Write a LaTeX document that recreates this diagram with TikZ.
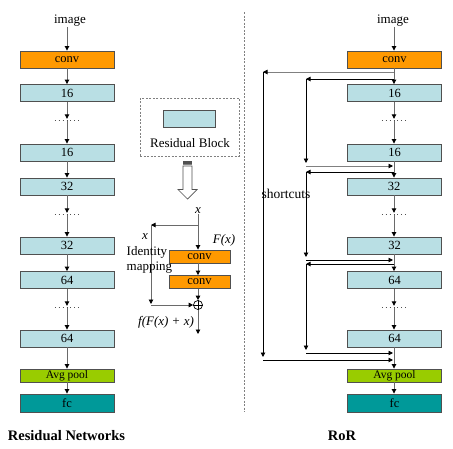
\documentclass[tikz,border=0pt]{standalone}
\usepackage{fontspec}
\setmainfont{Liberation Serif}
\usetikzlibrary{arrows.meta,calc}
\definecolor{convc}{HTML}{FF9900}
\definecolor{lb}{HTML}{B9DFE4}
\definecolor{avgc}{HTML}{99CC00}
\definecolor{fcc}{HTML}{009999}
\definecolor{bord}{HTML}{505050}
\definecolor{linec}{HTML}{6A6A6A}
\begin{document}
\begin{tikzpicture}[x=1pt,y=-1pt,
  txt/.style={font=\fontsize{13}{15}\selectfont,inner sep=0pt},
  blk/.style={draw=bord,line width=0.9pt,minimum width=94pt,minimum height=17pt,inner sep=0pt,font=\fontsize{12.5}{14}\selectfont},
  rblk/.style={draw=bord,line width=0.9pt,minimum width=61pt,minimum height=13pt,inner sep=0pt,font=\fontsize{12.5}{14}\selectfont,fill=convc},
  dotsn/.style={minimum width=24pt,minimum height=2pt,inner sep=0pt},
  dotline/.style={draw=bord,line width=0.8pt,dash pattern=on 0.9pt off 3pt},
  mainarr/.style={draw=linec,line width=0.9pt,-{Triangle[length=4.5pt,width=4.5pt,color=black]}},
  scarr/.style={draw=black,line width=0.9pt,-{Triangle[length=4.5pt,width=4.5pt]}},
  scgray/.style={draw=gray,line width=0.9pt,-{Triangle[length=4.5pt,width=4.5pt,color=black]}},
  plain/.style={draw=black,line width=0.9pt},
  sep/.style={draw=gray,line width=0.8pt,dash pattern=on 2pt off 1.5pt},
  title/.style={font=\bfseries\fontsize{14.5}{16}\selectfont,inner sep=0pt}
]
\useasboundingbox (0,0) rectangle (453,448);

% ===== Left column: Residual Networks =====
\node[txt] (Limg) at (70,21) {image};
\node[blk,fill=convc] (Lconv) at (67,59.5) {conv};
\node[blk,fill=lb] (L16a) at (67,93) {16};
\node[dotsn] (Ld1) at (67,120) {};
\node[blk,fill=lb] (L16b) at (67,152.5) {16};
\node[blk,fill=lb] (L32a) at (67,186.5) {32};
\node[dotsn] (Ld2) at (67,214) {};
\node[blk,fill=lb] (L32b) at (67,245.5) {32};
\node[blk,fill=lb] (L64a) at (67,280) {64};
\node[dotsn] (Ld3) at (67,307) {};
\node[blk,fill=lb] (L64b) at (67,338.5) {64};
\node[blk,fill=avgc,minimum height=13pt,font=\fontsize{11.5}{13}\selectfont] (Lavg) at (67,375.5) {Avg pool};
\node[blk,fill=fcc,minimum height=18pt] (Lfc) at (67,403) {fc};
\node[title] (Ltitle) at (66.5,436) {Residual Networks};

\foreach \d in {Ld1,Ld2,Ld3} \draw[dotline] (\d.west) -- (\d.east);

\draw[mainarr] (Limg.south -| Lconv.north) -- (Lconv.north);
\draw[mainarr] (Lconv.south) -- (L16a.north);
\draw[mainarr] (L16a.south) -- (Ld1.north);
\draw[mainarr] (Ld1.south) -- (L16b.north);
\draw[mainarr] (L16b.south) -- (L32a.north);
\draw[mainarr] (L32a.south) -- (Ld2.north);
\draw[mainarr] (Ld2.south) -- (L32b.north);
\draw[mainarr] (L32b.south) -- (L64a.north);
\draw[mainarr] (L64a.south) -- (Ld3.north);
\draw[mainarr] (Ld3.south) -- (L64b.north);
\draw[mainarr] (L64b.south) -- (Lavg.north);
\draw[mainarr] (Lavg.south) -- (Lfc.north);

% ===== Residual block legend =====
\node[draw=gray,line width=0.7pt,dash pattern=on 2pt off 1.5pt,minimum width=99pt,minimum height=58pt,inner sep=0pt] (legend) at (189.5,127) {};
\node[draw=bord,line width=0.9pt,fill=lb,minimum width=52pt,minimum height=17pt,inner sep=0pt] (legblk) at (189,118.5) {};
\node[txt] (legtxt) at (190,143) {Residual Block};

% hollow striped arrow
\fill[bord] (183,161) rectangle (192,163.5);
\fill[gray] (183,164.3) rectangle (192,165.3);
\draw[bord,line width=0.7pt,fill=white] (183,166) -- (192,166) -- (192,189.5) -- (197,189.5) -- (187.5,199) -- (178,189.5) -- (183,189.5) -- cycle;

% residual block detail
\node[txt,font=\itshape\fontsize{13}{15}\selectfont] (xin) at (198,211) {x};
\node[rblk] (rc1) at (199.5,256.5) {conv};
\node[rblk] (rc2) at (199.5,282) {conv};
\node[circle,draw=black,line width=0.7pt,minimum size=9pt,inner sep=0pt] (plus) at (198,305) {};
\draw[black,line width=0.7pt] (plus.north) -- (plus.south) (plus.west) -- (plus.east);
\coordinate (sa) at (198,225);
\coordinate (sb) at (151,225);
\coordinate (sc) at (151,304);
\coordinate (sd) at (151,305);
\coordinate (rout) at (198,334);
\draw[mainarr] (xin.south) -- (rc1.north -| xin);
\draw[mainarr] (sa) -- (sb);
\draw[mainarr] (sb) -- (sc);
\draw[mainarr] (sd) -- (plus.west);
\draw[mainarr] (rc1.south -| xin) -- (rc2.north -| xin);
\draw[mainarr] (rc2.south -| xin) -- (plus.north);
\draw[mainarr] (plus.south) -- (rout);
\node[txt,font=\itshape\fontsize{13}{15}\selectfont] (xlab) at (145,237) {x};
\node[txt,font=\itshape\fontsize{13}{15}\selectfont] (Flab) at (224,240) {F(x)};
\node[txt,align=left,anchor=west,font=\fontsize{13}{15.5}\selectfont] (idm) at (126.5,260) {Identity\\mapping};
\node[txt,font=\itshape\fontsize{13}{15}\selectfont] (flab) at (166,322) {f(F(x) + x)};

% ===== separator =====
\coordinate (septop) at (244,12);
\coordinate (sepbot) at (244,412);
\draw[sep] (septop) -- (sepbot);

% ===== Right column: RoR =====
\node[txt] (Rimg) at (393,21) {image};
\node[blk,fill=convc] (Rconv) at (394.5,59.5) {conv};
\node[blk,fill=lb] (R16a) at (394.5,93) {16};
\node[dotsn] (Rd1) at (394,120) {};
\node[blk,fill=lb] (R16b) at (394.5,152.5) {16};
\node[blk,fill=lb] (R32a) at (394,186.5) {32};
\node[dotsn] (Rd2) at (394,214) {};
\node[blk,fill=lb] (R32b) at (394.5,245.5) {32};
\node[blk,fill=lb] (R64a) at (394.5,280) {64};
\node[dotsn] (Rd3) at (394,307) {};
\node[blk,fill=lb] (R64b) at (394.5,338.5) {64};
\node[blk,fill=avgc,minimum height=13pt,font=\fontsize{11.5}{13}\selectfont] (Ravg) at (394.5,375.5) {Avg pool};
\node[blk,fill=fcc,minimum height=18pt] (Rfc) at (394.5,403) {fc};
\node[title] (Rtitle) at (342,436) {RoR};
\node[txt,font=\fontsize{13.5}{15}\selectfont] (shc) at (286,194) {shortcuts};

\foreach \d in {Rd1,Rd2,Rd3} \draw[dotline] (\d.west) -- (\d.east);

\draw[mainarr] (Rimg.south -| Rd1) -- (Rconv.north -| Rd1);
\draw[mainarr] (Rconv.south -| Rd1) -- (R16a.north -| Rd1);
\draw[mainarr] (R16a.south -| Rd1) -- (Rd1.north);
\draw[mainarr] (Rd1.south) -- (R16b.north -| Rd1);
\draw[mainarr] (R16b.south -| Rd1) -- (R32a.north -| Rd1);
\draw[mainarr] (R32a.south -| Rd1) -- (Rd2.north);
\draw[mainarr] (Rd2.south) -- (R32b.north -| Rd1);
\draw[mainarr] (R32b.south -| Rd1) -- (R64a.north -| Rd1);
\draw[mainarr] (R64a.south -| Rd1) -- (Rd3.north);
\draw[mainarr] (Rd3.south) -- (R64b.north -| Rd1);
\draw[mainarr] (R64b.south -| Rd1) -- (Ravg.north -| Rd1);
\draw[mainarr] (Ravg.south -| Rd1) -- (Rfc.north -| Rd1);

% outer shortcut
\coordinate (A1) at (394,72);
\coordinate (A2) at (263,72);
\coordinate (A3) at (263,357);
\coordinate (A4) at (263,360);
\coordinate (A5) at (393,360);
\draw[scgray] (A1) -- (A2);
\draw[scarr] (A2) -- (A3);
\draw[scarr] (A4) -- (A5);

% group 1 shortcut
\coordinate (B1) at (394,79);
\coordinate (B2) at (306,79);
\coordinate (B3) at (306,163);
\coordinate (B4) at (306,166);
\coordinate (B5) at (393,166);
\draw[scarr] (B1) -- (B2);
\draw[scarr] (B2) -- (B3);
\draw[scgray] (B4) -- (B5);

% group 2 shortcut
\coordinate (C1) at (394,172);
\coordinate (C2) at (306,172);
\coordinate (C3) at (306,257);
\coordinate (C4) at (306,260);
\coordinate (C5) at (393,260);
\draw[scarr] (C1) -- (C2);
\draw[scarr] (C2) -- (C3);
\draw[scarr] (C4) -- (C5);

% group 3 shortcut
\coordinate (D1) at (394,264);
\coordinate (D2) at (306,264);
\coordinate (D3) at (306,350);
\coordinate (D4) at (306,353);
\coordinate (D5) at (393,353);
\draw[scarr] (D1) -- (D2);
\draw[scarr] (D2) -- (D3);
\draw[scarr] (D4) -- (D5);
\end{tikzpicture}
\end{document}
